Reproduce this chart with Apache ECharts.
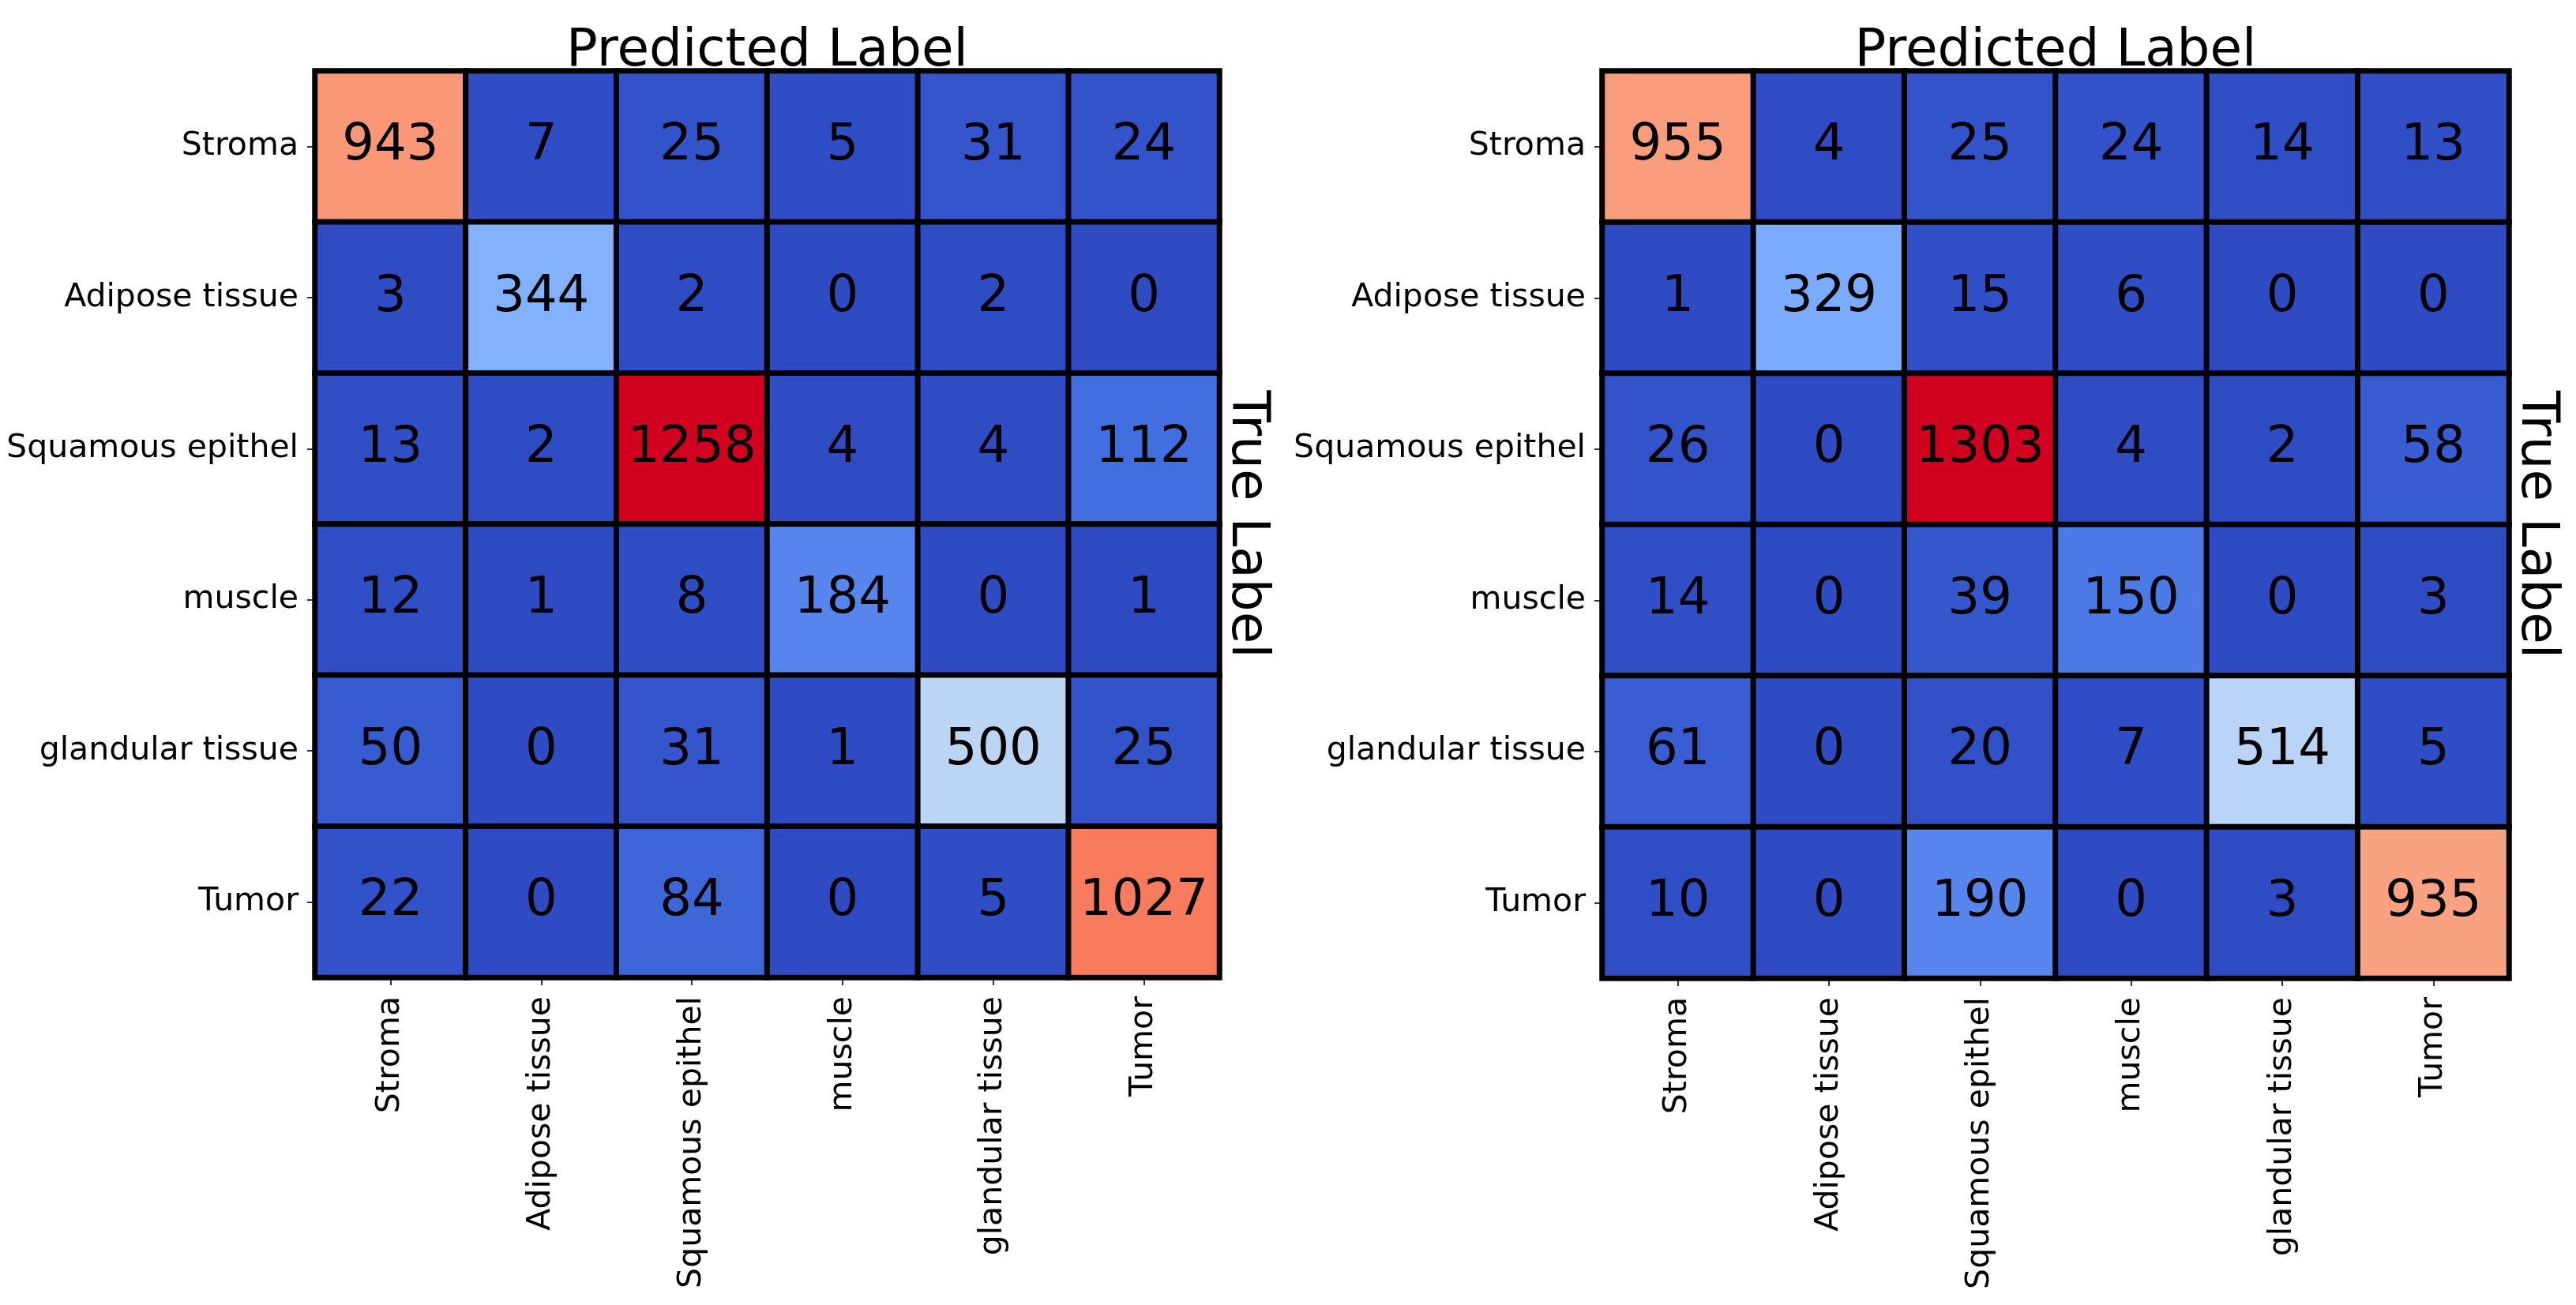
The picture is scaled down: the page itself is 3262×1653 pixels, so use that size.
<!DOCTYPE html>
<html>
<head>
<meta charset="utf-8">
<script src="https://cdn.jsdelivr.net/npm/echarts@6/dist/echarts.min.js"></script>
<style>
html,body{margin:0;padding:0;background:#fff;}
#chart{width:3262px;height:1653px;}
</style>
</head>
<body>
<div id="chart"></div>
<script>
// ---- data ----
const categories = ['Stroma', 'Adipose tissue', 'Squamous epithel', 'muscle', 'glandular tissue', 'Tumor'];
// rows = true label, columns = predicted label
const leftMatrix = [
  [943, 7, 25, 5, 31, 24],
  [3, 344, 2, 0, 2, 0],
  [13, 2, 1258, 4, 4, 112],
  [12, 1, 8, 184, 0, 1],
  [50, 0, 31, 1, 500, 25],
  [22, 0, 84, 0, 5, 1027]
];
const rightMatrix = [
  [955, 4, 25, 24, 14, 13],
  [1, 329, 15, 6, 0, 0],
  [26, 0, 1303, 4, 2, 58],
  [14, 0, 39, 150, 0, 3],
  [61, 0, 20, 7, 514, 5],
  [10, 0, 190, 0, 3, 935]
];
const xTitle = 'Predicted Label';
const yTitle = 'True Label';
const colorStops = ['#2E4BC4', '#4573E3', '#6A9BF9', '#8ABAFF', '#BCD6F5', '#DCDCDC',
                    '#F4C4AC', '#F8A989', '#FB8464', '#EA4A3E', '#D0001E'];

// ---- build ----
function toCells(m) {
  const out = [];
  m.forEach((row, r) => row.forEach((v, c) => out.push([c, r, v])));
  return out;
}
function maxOf(m) { return Math.max.apply(null, m.flat()); }

const FONT = 'DejaVu Sans';
const grids = [
  {left: 399, top: 90, width: 1145, height: 1148},
  {left: 2029, top: 90, width: 1148, height: 1149}
];

function xAxisFor(i) {
  return {
    type: 'category', data: categories, gridIndex: i, position: 'bottom',
    axisLine: {show: true, lineStyle: {color: '#000', width: 3}},
    axisTick: {show: true, alignWithLabel: true, length: 10, lineStyle: {color: '#333', width: 2}},
    axisLabel: {rotate: 90, margin: 24, fontSize: 41, fontFamily: FONT, color: '#000', interval: 0},
    splitLine: {show: false}
  };
}
function yAxisFor(i) {
  return {
    type: 'category', data: categories, gridIndex: i, inverse: true,
    axisLine: {show: true, lineStyle: {color: '#000', width: 3}},
    axisTick: {show: true, alignWithLabel: true, length: 10, lineStyle: {color: '#333', width: 2}},
    axisLabel: {margin: 21, fontSize: 41, fontFamily: FONT, color: '#000', interval: 0},
    splitLine: {show: false}
  };
}
function seriesFor(i, m) {
  return {
    type: 'heatmap', xAxisIndex: i, yAxisIndex: i, data: toCells(m),
    itemStyle: {borderColor: '#000', borderWidth: 7},
    label: {show: true, formatter: p => String(p.value[2]), fontSize: 64, fontFamily: FONT, color: '#000'},
    emphasis: {disabled: true}
  };
}

const graphics = [];
grids.forEach(g => {
  graphics.push({
    type: 'text', x: g.left + g.width / 2, y: 66,
    style: {text: xTitle, fontSize: 66, fontFamily: FONT, fill: '#000',
            align: 'center', verticalAlign: 'middle', textAlign: 'center', textVerticalAlign: 'middle'}
  });
  graphics.push({
    type: 'text', x: g.left + g.width + 34, y: g.top + g.height / 2, rotation: -Math.PI / 2,
    style: {text: yTitle, fontSize: 66, fontFamily: FONT, fill: '#000',
            align: 'center', verticalAlign: 'middle', textAlign: 'center', textVerticalAlign: 'middle'}
  });
});

const chart = echarts.init(document.getElementById('chart'), null, {renderer: 'canvas'});
chart.setOption({
  backgroundColor: '#fff',
  animation: false,
  grid: grids,
  xAxis: [xAxisFor(0), xAxisFor(1)],
  yAxis: [yAxisFor(0), yAxisFor(1)],
  visualMap: [
    {show: false, seriesIndex: 0, min: 0, max: maxOf(leftMatrix), inRange: {color: colorStops}},
    {show: false, seriesIndex: 1, min: 0, max: maxOf(rightMatrix), inRange: {color: colorStops}}
  ],
  series: [seriesFor(0, leftMatrix), seriesFor(1, rightMatrix)],
  graphic: graphics
});
</script>
</body>
</html>
